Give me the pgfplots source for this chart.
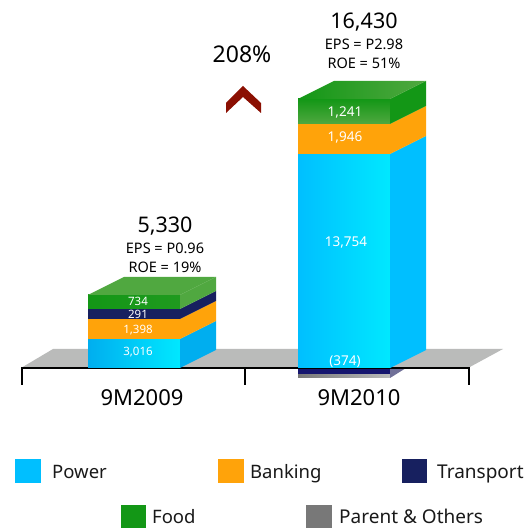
\documentclass[border=0pt]{standalone}
\usepackage{pgfplots}
\pgfplotsset{compat=1.18}
\usepackage{fontspec}
\setmainfont{Noto Sans}
\definecolor{floorc}{HTML}{BABBBA}
\definecolor{orangec}{HTML}{FFA30A}
\definecolor{navyc}{HTML}{17205F}
\definecolor{greenc}{HTML}{139716}
\definecolor{lgreen}{HTML}{50A840}
\definecolor{skyc}{HTML}{00BFFF}
\definecolor{skyd}{HTML}{00AEEF}
\definecolor{cyanc}{HTML}{00E8FF}
\definecolor{greyc}{HTML}{787878}
\definecolor{redc}{HTML}{8B0F02}
\definecolor{negc}{HTML}{15156E}
\newcommand{\face}[2]{\addplot[draw=none,forget plot,#1] coordinates {#2} --cycle;}
\newcommand{\txt}[4][black]{\node[text=#1,font=\fontsize{#4}{#4}\selectfont,inner sep=0pt] at (axis cs:#2) {#3};}
\newcommand{\ltxt}[3]{\node[anchor=base west,text=black!90,font=\fontsize{#3}{#3}\selectfont,inner sep=0pt] at (axis cs:#1) {#2};}
\begin{document}
\begin{tikzpicture}
% x = picture position, y = height above the baseline as drawn: the reference's bars are not to scale with their labels
\begin{axis}[scale only axis,width=527pt,height=528pt,xmin=0,xmax=527,ymin=-160,ymax=368,
  axis lines=none,clip=false,no markers]
\path (axis cs:0,-160) rectangle (axis cs:527,368);
% floor
\face{fill=floorc}{(21,0)(53,19)(503,19)(468,0)}
% negative part 9M2010
\face{fill=negc}{(298,0)(390,0)(390,-7)(298,-7)}
\face{left color=greyc,right color=floorc}{(298,-7)(390,-7)(390,-10)(298,-10)}
\face{fill=negc!45!floorc}{(390,0)(406,0)(390,-10)}
% axis bracket
\addplot[black,line width=2pt,forget plot] coordinates {(21.5,-17)(21.5,0)(468.5,0)(468.5,-17)};
\addplot[black,line width=2pt,forget plot] coordinates {(245,0)(245,-17)};
% 9M2009
\face{left color=skyd,right color=cyanc}{(88,0)(180,0)(180,29)(88,29)}
\face{fill=skyd}{(180,0)(216,18)(216,47)(180,29)}
\face{fill=orangec}{(88,29)(180,29)(180,49)(88,49)}
\face{fill=orangec}{(180,29)(216,47)(216,67)(180,49)}
\face{fill=navyc}{(88,49)(180,49)(180,59)(88,59)}
\face{fill=navyc}{(180,49)(216,67)(216,77)(180,59)}
\face{left color=greenc,right color=greenc!80!lgreen}{(88,59)(180,59)(180,73)(88,73)}
\face{fill=lgreen}{(180,59)(216,77)(216,91)(180,73)}
\face{fill=lgreen}{(88,73)(180,73)(216,91)(124,91)}
% 9M2010
\face{left color=skyc,right color=cyanc}{(298,0)(390,0)(390,214)(298,214)}
\face{fill=skyc}{(390,0)(426,18)(426,232)(390,214)}
\face{fill=orangec}{(298,214)(390,214)(390,244)(298,244)}
\face{fill=orangec}{(390,214)(426,232)(426,262)(390,244)}
\face{top color=greenc,bottom color=lgreen}{(298,244)(390,244)(390,269)(298,269)}
\face{fill=greenc}{(390,244)(426,262)(426,287)(390,269)}
\face{left color=greenc,right color=lgreen}{(298,269)(390,269)(426,287)(334,287)}
% chevron
\face{fill=redc}{(226,265)(243,282)(261,265)(261,255)(243,271)(226,255)}
% legend
\face{fill=skyc}{(15,-91)(41,-91)(41,-115)(15,-115)}
\face{fill=orangec}{(218,-91)(244,-91)(244,-115)(218,-115)}
\face{fill=navyc}{(402,-91)(427,-91)(427,-115)(402,-115)}
\face{fill=greenc}{(121,-137)(146,-137)(146,-160)(121,-160)}
\face{fill=greyc}{(306,-137)(332,-137)(332,-160)(306,-160)}
% labels
\txt[white]{138,16}{3,016}{11.5pt}
\txt[white]{138,38}{1,398}{11.5pt}
\txt[white]{138,54}{291}{11.5pt}
\txt[white]{138,67}{734}{11.5pt}
\txt[white]{346,126}{13,754}{13.5pt}
\txt[white]{345,231}{1,946}{13.5pt}
\txt[white]{345,256}{1,241}{13.5pt}
\txt[white]{345,6}{(374)}{13.5pt}
\txt{165,142}{5,330}{21.5pt}
\txt{165,120}{EPS = P0.96}{14.5pt}
\txt{165,101}{ROE = 19\%}{14.5pt}
\txt{364,346}{16,430}{21.5pt}
\txt{364,324}{EPS = P2.98}{14.5pt}
\txt{364,305}{ROE = 51\%}{14.5pt}
\txt{242,314}{208\%}{23pt}
\txt{142,-30}{9M2009}{22pt}
\txt{359,-30}{9M2010}{22pt}
\ltxt{52,-111}{Power}{18.5pt}
\ltxt{250,-111}{Banking}{18.5pt}
\ltxt{437,-111}{Transport}{19pt}
\ltxt{152,-155}{Food}{18.5pt}
\ltxt{339,-155}{Parent \& Others}{19pt}
\end{axis}
\end{tikzpicture}
\end{document}
